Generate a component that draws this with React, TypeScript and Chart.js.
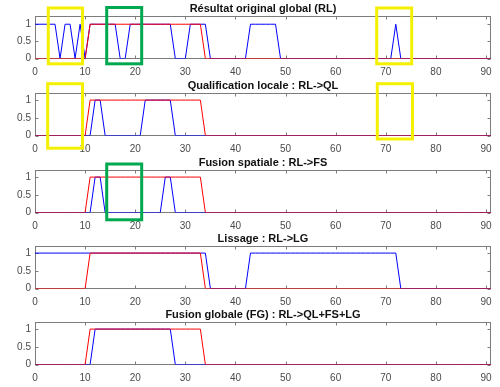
import { useEffect, useRef } from "react";
import { Chart, registerables } from "chart.js";

Chart.register(...registerables);

// ---- data (sample index 0..91) ----
const truth = [
  0, 0, 0, 0, 0, 0, 0, 0, 0, 0,
  0, 1, 1, 1, 1, 1, 1, 1, 1, 1,
  1, 1, 1, 1, 1, 1, 1, 1, 1, 1,
  1, 1, 1, 1, 0, 0, 0, 0, 0, 0,
  0, 0, 0, 0, 0, 0, 0, 0, 0, 0,
  0, 0, 0, 0, 0, 0, 0, 0, 0, 0,
  0, 0, 0, 0, 0, 0, 0, 0, 0, 0,
  0, 0, 0, 0, 0, 0, 0, 0, 0, 0,
  0, 0, 0, 0, 0, 0, 0, 0, 0, 0,
  0, 0,
];

const rlResult = [
  1, 1, 1, 1, 1, 0, 1, 1, 0, 1,
  0, 1, 1, 1, 1, 1, 1, 0, 0, 1,
  1, 1, 1, 1, 1, 1, 1, 1, 0, 0,
  0, 1, 1, 1, 1, 0, 0, 0, 0, 0,
  0, 0, 0, 1, 1, 1, 1, 1, 1, 0,
  0, 0, 0, 0, 0, 0, 0, 0, 0, 0,
  0, 0, 0, 0, 0, 0, 0, 0, 0, 0,
  0, 0, 1, 0, 0, 0, 0, 0, 0, 0,
  0, 0, 0, 0, 0, 0, 0, 0, 0, 0,
  0, 0,
];

const qlResult = [
  0, 0, 0, 0, 0, 0, 0, 0, 0, 0,
  0, 0, 1, 1, 0, 0, 0, 0, 0, 0,
  0, 0, 1, 1, 1, 1, 1, 1, 0, 0,
  0, 0, 0, 0, 0, 0, 0, 0, 0, 0,
  0, 0, 0, 0, 0, 0, 0, 0, 0, 0,
  0, 0, 0, 0, 0, 0, 0, 0, 0, 0,
  0, 0, 0, 0, 0, 0, 0, 0, 0, 0,
  0, 0, 0, 0, 0, 0, 0, 0, 0, 0,
  0, 0, 0, 0, 0, 0, 0, 0, 0, 0,
  0, 0,
];

const fsResult = [
  0, 0, 0, 0, 0, 0, 0, 0, 0, 0,
  0, 0, 1, 1, 0, 0, 0, 0, 0, 0,
  0, 0, 0, 0, 0, 0, 1, 1, 0, 0,
  0, 0, 0, 0, 0, 0, 0, 0, 0, 0,
  0, 0, 0, 0, 0, 0, 0, 0, 0, 0,
  0, 0, 0, 0, 0, 0, 0, 0, 0, 0,
  0, 0, 0, 0, 0, 0, 0, 0, 0, 0,
  0, 0, 0, 0, 0, 0, 0, 0, 0, 0,
  0, 0, 0, 0, 0, 0, 0, 0, 0, 0,
  0, 0,
];

const lgResult = [
  1, 1, 1, 1, 1, 1, 1, 1, 1, 1,
  1, 1, 1, 1, 1, 1, 1, 1, 1, 1,
  1, 1, 1, 1, 1, 1, 1, 1, 1, 1,
  1, 1, 1, 1, 1, 0, 0, 0, 0, 0,
  0, 0, 0, 1, 1, 1, 1, 1, 1, 1,
  1, 1, 1, 1, 1, 1, 1, 1, 1, 1,
  1, 1, 1, 1, 1, 1, 1, 1, 1, 1,
  1, 1, 1, 0, 0, 0, 0, 0, 0, 0,
  0, 0, 0, 0, 0, 0, 0, 0, 0, 0,
  0, 0,
];

const fgResult = [
  0, 0, 0, 0, 0, 0, 0, 0, 0, 0,
  0, 0, 1, 1, 1, 1, 1, 1, 1, 1,
  1, 1, 1, 1, 1, 1, 1, 1, 0, 0,
  0, 0, 0, 0, 0, 0, 0, 0, 0, 0,
  0, 0, 0, 0, 0, 0, 0, 0, 0, 0,
  0, 0, 0, 0, 0, 0, 0, 0, 0, 0,
  0, 0, 0, 0, 0, 0, 0, 0, 0, 0,
  0, 0, 0, 0, 0, 0, 0, 0, 0, 0,
  0, 0, 0, 0, 0, 0, 0, 0, 0, 0,
  0, 0,
];

const titles = [
  "Résultat original global (RL)",
  "Qualification locale : RL->QL",
  "Fusion spatiale : RL->FS",
  "Lissage : RL->LG",
  "Fusion globale (FG) : RL->QL+FS+LG",
];

const xTicks = [0, 10, 20, 30, 40, 50, 60, 70, 80, 90];
const yTicks = [0, 0.5, 1];
const X_MAX = 91;

// highlight frames, in data units of each panel
type Frame = { x0: number; x1: number; y0: number; y1: number; color: string };
const YELLOW = "#f5f000";
const GREEN = "#00a84f";
const frames1: Frame[] = [
  { x0: 2.65, x1: 9.48, y0: -0.155, y1: 1.474, color: YELLOW },
  { x0: 14.31, x1: 21.29, y0: -0.155, y1: 1.488, color: GREEN },
  { x0: 68.19, x1: 75.17, y0: -0.155, y1: 1.474, color: YELLOW },
];
const frames2: Frame[] = [
  { x0: 2.53, x1: 9.48, y0: -0.359, y1: 1.462, color: YELLOW },
  { x0: 68.31, x1: 75.33, y0: -0.099, y1: 1.462, color: YELLOW },
];
const frames3: Frame[] = [
  { x0: 14.31, x1: 21.29, y0: -0.206, y1: 1.369, color: GREEN },
];

type PanelDef = {
  title: string;
  result: number[];
  ymax: number;
  top: number;
  frames: Frame[];
};

const panels: PanelDef[] = [
  { title: titles[0], result: rlResult, ymax: 1.24, top: 0, frames: frames1 },
  { title: titles[1], result: qlResult, ymax: 1.2, top: 77, frames: frames2 },
  { title: titles[2], result: fsResult, ymax: 1.2, top: 154, frames: frames3 },
  { title: titles[3], result: lgResult, ymax: 1.2, top: 230, frames: [] },
  { title: titles[4], result: fgResult, ymax: 1.2, top: 306, frames: [] },
];

const CANVAS_W = 500;
const CANVAS_H = 77;
const FONT = '"Liberation Sans", Arial, Helvetica, sans-serif';

function makeFramePlugin(panel: PanelDef) {
  return {
    id: "matlabFrame",
    beforeDatasetsDraw(chart: any) {
      const { ctx, chartArea: a, scales } = chart;
      const L = Math.floor(a.left) + 0.5;
      const R = Math.floor(a.right - 0.5) + 0.5;
      const T = Math.floor(a.top) + 0.5;
      const B = Math.floor(a.bottom) + 0.5;
      ctx.save();
      ctx.strokeStyle = "#7c7c7c";
      ctx.lineWidth = 1;
      ctx.strokeRect(L, T, R - L, B - T);
      ctx.beginPath();
      for (const v of xTicks) {
        const px = Math.round(scales.x.getPixelForValue(v)) + 0.5;
        ctx.moveTo(px, T);
        ctx.lineTo(px, T + 3);
        ctx.moveTo(px, B);
        ctx.lineTo(px, B - 3);
      }
      for (const v of yTicks) {
        const py = Math.round(scales.y.getPixelForValue(v)) + 0.5;
        ctx.moveTo(L, py);
        ctx.lineTo(L + 3, py);
        ctx.moveTo(R, py);
        ctx.lineTo(R - 3, py);
      }
      ctx.stroke();
      ctx.restore();
    },
    afterDraw(chart: any) {
      const { ctx, chartArea: a, scales } = chart;
      ctx.save();
      ctx.fillStyle = "#111";
      ctx.font = `bold 11px ${FONT}`;
      ctx.textAlign = "center";
      ctx.textBaseline = "middle";
      ctx.fillText(panel.title, (a.left + a.right) / 2, a.top - 7);
      ctx.lineWidth = 3;
      for (const f of panel.frames) {
        const x0 = scales.x.getPixelForValue(f.x0);
        const x1 = scales.x.getPixelForValue(f.x1);
        const y0 = scales.y.getPixelForValue(f.y0);
        const y1 = scales.y.getPixelForValue(f.y1);
        ctx.strokeStyle = f.color;
        ctx.strokeRect(x0, y1, x1 - x0, y0 - y1);
      }
      ctx.restore();
    },
  };
}

function Panel({ panel }: { panel: PanelDef }) {
  const ref = useRef<HTMLCanvasElement | null>(null);
  useEffect(() => {
    if (!ref.current) return;
    const sampleX = truth.map((_, i) => i);
    const chart = new Chart(ref.current, {
      type: "line",
      data: {
        datasets: [
          {
            label: "référence",
            data: sampleX.map((x, i) => ({ x, y: truth[i] })),
            borderColor: "#ff0000",
            borderWidth: 1,
            pointRadius: 0,
            tension: 0,
            fill: false,
          },
          {
            label: "résultat",
            data: sampleX.map((x, i) => ({ x, y: panel.result[i] })),
            borderColor: "#0000ff",
            borderWidth: 1,
            pointRadius: 0,
            tension: 0,
            fill: false,
          },
        ],
      },
      options: {
        animation: false,
        responsive: false,
        devicePixelRatio: 1,
        events: [],
        layout: { padding: { top: 16, left: 0, right: 9, bottom: 0 } },
        plugins: {
          legend: { display: false },
          title: { display: false },
          tooltip: { enabled: false },
        },
        scales: {
          x: {
            type: "linear",
            min: 0,
            max: X_MAX,
            grid: { display: false, drawTicks: false },
            border: { display: false },
            ticks: {
              color: "#4a4a4a",
              font: { family: FONT, size: 10 },
              padding: 7.5,
              maxRotation: 0,
              autoSkip: false,
              callback: (v: any) => String(v),
            },
            afterBuildTicks: (s: any) => {
              s.ticks = xTicks.map((v) => ({ value: v }));
            },
            afterFit: (s: any) => {
              s.height = CANVAS_H - 16 - 42.5;
              s.paddingLeft = 0;
              s.paddingRight = 0;
            },
          },
          y: {
            type: "linear",
            min: 0,
            max: panel.ymax,
            grid: { display: false, drawTicks: false },
            border: { display: false },
            ticks: {
              color: "#4a4a4a",
              font: { family: FONT, size: 10 },
              padding: 4,
              callback: (v: any) => String(v),
            },
            afterBuildTicks: (s: any) => {
              s.ticks = yTicks.map((v) => ({ value: v }));
            },
            afterFit: (s: any) => {
              s.width = 35;
              s.paddingTop = 0;
              s.paddingBottom = 0;
            },
          },
        },
      },
      plugins: [makeFramePlugin(panel)],
    } as any);
    return () => chart.destroy();
  }, [panel]);
  return (
    <canvas
      ref={ref}
      width={CANVAS_W}
      height={CANVAS_H}
      style={{
        position: "absolute",
        left: 0,
        top: panel.top,
        width: CANVAS_W,
        height: CANVAS_H,
      }}
    />
  );
}

export default function App() {
  return (
    <div
      style={{
        position: "absolute",
        left: 0,
        top: 0,
        width: 500,
        height: 387,
        background: "#ffffff",
        overflow: "hidden",
      }}
    >
      {panels.map((p, i) => (
        <Panel key={i} panel={p} />
      ))}
    </div>
  );
}
